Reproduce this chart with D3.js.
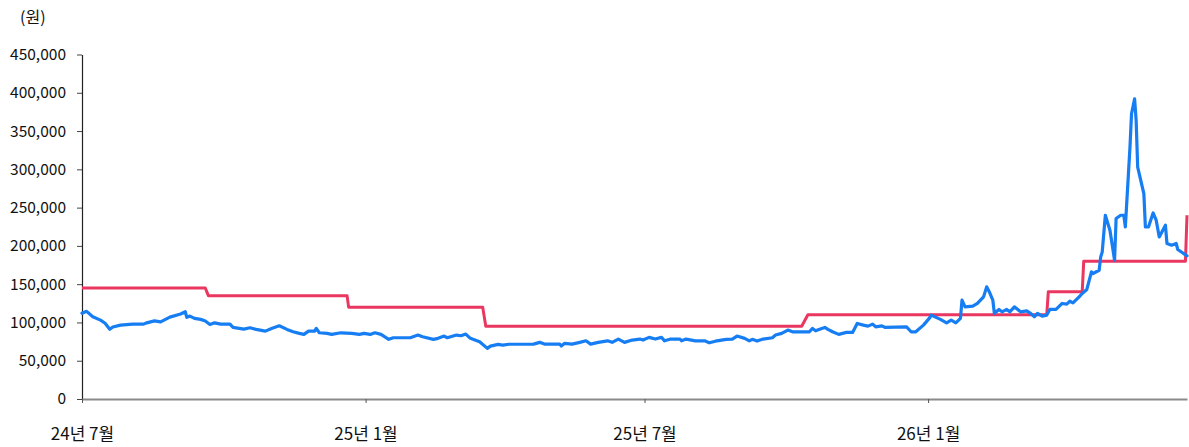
<!DOCTYPE html>
<html>
<head>
<meta charset="utf-8">
<script src="https://cdn.jsdelivr.net/npm/d3@7"></script>
<style>
  body { margin: 0; background: #fff; }
  svg { display: block; }
  text { font-family: "Noto Sans CJK KR", "Noto Sans", sans-serif; }
</style>
</head>
<body>
<svg id="chart" width="1189" height="447"></svg>
<script>
// ---- data ----
const priceDates = [
"2024-07-01","2024-07-04","2024-07-08","2024-07-13","2024-07-16","2024-07-19","2024-07-21","2024-07-26",
"2024-08-03","2024-08-10","2024-08-12","2024-08-17","2024-08-21","2024-08-27","2024-09-03","2024-09-06",
"2024-09-07","2024-09-09","2024-09-12","2024-09-16","2024-09-19","2024-09-22","2024-09-25","2024-09-29",
"2024-10-05","2024-10-07","2024-10-14","2024-10-18","2024-10-22","2024-10-28","2024-11-01","2024-11-06",
"2024-11-11","2024-11-15","2024-11-19","2024-11-22","2024-11-25","2024-11-29","2024-11-30","2024-12-02",
"2024-12-07","2024-12-10","2024-12-16","2024-12-23","2024-12-28","2024-12-31","2025-01-04","2025-01-07",
"2025-01-11","2025-01-16","2025-01-19","2025-01-30","2025-02-04","2025-02-07","2025-02-14","2025-02-17",
"2025-02-21","2025-02-23","2025-03-01","2025-03-04","2025-03-07","2025-03-10","2025-03-16","2025-03-21",
"2025-03-23","2025-03-28","2025-03-31","2025-04-04","2025-04-20","2025-04-24","2025-04-27","2025-05-07",
"2025-05-08","2025-05-10","2025-05-15","2025-05-20","2025-05-24","2025-05-27","2025-06-01","2025-06-07",
"2025-06-10","2025-06-14","2025-06-18","2025-06-23","2025-06-28","2025-06-30","2025-07-04","2025-07-08",
"2025-07-12","2025-07-14","2025-07-18","2025-07-24","2025-07-25","2025-07-28","2025-08-03","2025-08-09",
"2025-08-12","2025-08-16","2025-08-23","2025-08-27","2025-08-30","2025-09-04","2025-09-07","2025-09-09",
"2025-09-12","2025-09-16","2025-09-22","2025-09-24","2025-09-28","2025-10-02","2025-10-05","2025-10-16",
"2025-10-18","2025-10-20","2025-10-24","2025-10-26","2025-10-28","2025-10-31","2025-11-04","2025-11-09",
"2025-11-13","2025-11-16","2025-11-20","2025-11-23","2025-11-26","2025-11-28","2025-12-02","2025-12-04",
"2025-12-18","2025-12-21","2025-12-24","2025-12-29","2026-01-02","2026-01-03","2026-01-09","2026-01-13",
"2026-01-16","2026-01-19","2026-01-22","2026-01-23","2026-01-25","2026-01-30","2026-02-02","2026-02-06",
"2026-02-08","2026-02-10","2026-02-12","2026-02-13","2026-02-16","2026-02-18","2026-02-21","2026-02-23",
"2026-02-26","2026-03-02","2026-03-06","2026-03-08","2026-03-11","2026-03-13","2026-03-16","2026-03-19",
"2026-03-21","2026-03-25","2026-03-29","2026-04-01","2026-04-03","2026-04-05","2026-04-09","2026-04-11",
"2026-04-14","2026-04-17","2026-04-18","2026-04-22","2026-04-23","2026-04-24","2026-04-26","2026-04-29",
"2026-05-02","2026-05-03","2026-05-06","2026-05-08","2026-05-09","2026-05-11","2026-05-12","2026-05-13",
"2026-05-15","2026-05-16","2026-05-17","2026-05-21","2026-05-22","2026-05-24","2026-05-27","2026-05-29",
"2026-05-31","2026-06-04","2026-06-05","2026-06-08","2026-06-11","2026-06-12","2026-06-18"
];
const priceValues = [
112000,114500,107500,103000,99000,91000,94000,96500,
97800,97800,99500,102000,100800,107000,111000,114000,
106600,108300,105300,104000,102000,97400,99500,97800,
97800,93500,91300,93000,90900,88700,92200,95600,
90900,87800,85700,84400,88700,88700,92200,86500,
85700,84400,86500,85700,84400,85700,84400,86500,
84400,77900,80000,80000,83500,81300,77900,79200,
82200,80000,83500,82600,84800,79200,74700,66100,
69100,71300,70400,71500,71700,74000,71700,71700,
69100,72600,71700,74000,76000,71700,74000,76000,
74000,78300,74000,77000,78300,77000,80500,78300,
80500,76000,78300,78300,76000,78300,76000,76000,
73400,75500,77900,78300,82200,79200,76000,77900,
75700,78300,80000,83500,85700,90000,87800,87800,
92200,89100,92200,93500,90900,87800,84400,87000,
87000,98700,96500,95200,97800,94300,95600,93500,
94300,87800,87800,96500,106000,109600,104000,99500,
103000,99500,105300,129100,120400,121300,124800,133400,
146500,138700,129100,111800,117000,113900,117000,113900,
120400,113900,115200,112600,107400,111800,108300,109600,
117000,117000,124800,123900,127800,125600,133400,137800,
143100,166000,163900,168200,185600,192100,240000,220400,
181300,235700,240000,240000,224700,294300,329100,372600,
392200,363900,303000,268300,224700,224700,243000,233500,
211700,227000,203100,200900,203100,195300,187000
];
const targetDates = [
"2024-07-01","2024-09-19","2024-09-21","2024-12-20","2024-12-21","2025-03-18","2025-03-20",
"2025-10-11","2025-10-15","2026-03-19","2026-03-20","2026-04-11","2026-04-12","2026-06-17","2026-06-18"
];
const targetValues = [
145000,145000,135000,135000,120000,120000,95000,
95000,110000,110000,140000,140000,180000,180000,240000
];
const yTicks = [0,50000,100000,150000,200000,250000,300000,350000,400000,450000];
const xTickDates = ["2024-07-01","2025-01-01","2025-07-01","2026-01-01"];
const xTickLabels = ["24년 7월","25년 1월","25년 7월","26년 1월"];
const unitLabel = "(원)";
const axisStart = "2024-07-01", axisEnd = "2026-06-18";

// ---- drawing ----
const parse = d3.utcParse("%Y-%m-%d");
const svg = d3.select("#chart");
const mLeft = 82, mRight = 1187, mTop = 54.5, mBottom = 399;

const x = d3.scaleUtc().domain([parse(axisStart), parse(axisEnd)]).range([mLeft, mRight]);
const y = d3.scaleLinear().domain([0, 450000]).range([mBottom, mTop]);

const price = priceDates.map((d, i) => ({ date: parse(d), value: priceValues[i] }));
const target = targetDates.map((d, i) => ({ date: parse(d), value: targetValues[i] }));

// y axis
const yAxis = svg.append("g")
  .attr("transform", `translate(${mLeft},0)`)
  .call(d3.axisLeft(y).tickValues(yTicks).tickFormat(d3.format(",")).tickSize(5).tickSizeOuter(0).tickPadding(11));
yAxis.select(".domain").attr("stroke", "#222").attr("stroke-width", 1.2);
yAxis.selectAll(".tick line").attr("stroke", "#444");
yAxis.selectAll("text").attr("font-size", 15.5).attr("fill", "#111");

// x axis
const tickDateObjs = xTickDates.map(parse);
const xAxis = svg.append("g")
  .attr("transform", `translate(0,${mBottom})`)
  .call(d3.axisBottom(x).tickValues(tickDateObjs)
    .tickFormat((d, i) => xTickLabels[i]).tickSize(4).tickSizeOuter(0).tickPadding(25));
xAxis.select(".domain").attr("stroke", "#8a8a8a").attr("stroke-width", 2);
xAxis.selectAll(".tick line").attr("stroke", "#555");
xAxis.selectAll("text").attr("font-size", 17).attr("fill", "#111");

// lines
const line = d3.line().x(d => x(d.date)).y(d => y(d.value));
svg.append("path").datum(target)
  .attr("fill", "none").attr("stroke", "#EA3760").attr("stroke-width", 3)
  .attr("stroke-linejoin", "round").attr("d", line);
svg.append("path").datum(price)
  .attr("fill", "none").attr("stroke", "#167EF2").attr("stroke-width", 3.2)
  .attr("stroke-linejoin", "round").attr("stroke-linecap", "round").attr("d", line);

// unit label
svg.append("text").attr("x", 20).attr("y", 23).attr("font-size", 16).attr("fill", "#111").text(unitLabel);
</script>
</body>
</html>
